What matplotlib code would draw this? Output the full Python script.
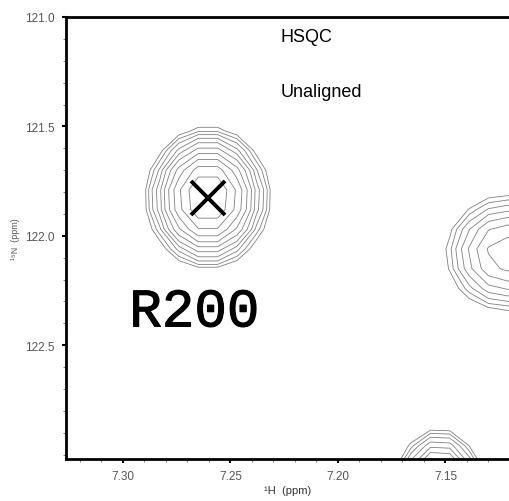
import numpy as np
import matplotlib
matplotlib.use('Agg')
import matplotlib.pyplot as plt
import matplotlib.patheffects as pe

plt.rcParams['font.family'] = ['Liberation Sans', 'DejaVu Sans']

# peaks (1H ppm, 15N ppm, height, widths)
peak_h = [7.2605, 7.122, 7.153]
peak_n = [121.825, 122.08, 123.14]
peak_height = [7.4, 3.7, 5.0]
peak_wh = [0.0141, 0.0170, 0.0112]
peak_wn = [0.160, 0.160, 0.140]

# contour levels (geometric, as in the plot)
levels = [1.0, 1.215, 1.476, 1.794, 2.18, 2.648, 3.218, 3.91, 4.75, 5.77, 7.01]

# digital resolution of the spectrum
h_axis = np.arange(7.40, 7.05, -0.009)
n_axis = np.arange(120.8, 123.4, 0.09)

H, N = np.meshgrid(h_axis, n_axis)
Z = np.zeros_like(H)
for h0, n0, a, wh, wn in zip(peak_h, peak_n, peak_height, peak_wh, peak_wn):
    Z += a * np.exp(-0.5 * ((H - h0) / wh) ** 2 - 0.5 * ((N - n0) / wn) ** 2)

fig = plt.figure(figsize=(5.10, 5.02), dpi=100)
ax = fig.add_axes([66 / 510, 42 / 502, 444 / 510, 442 / 502])

ax.contour(H, N, Z, levels=levels, colors='#808080', linewidths=0.6)

# assigned peak
ax.plot([7.2605], [121.825], marker='x', color='black', markersize=24, mew=2.8)

ax.set_xlim(7.3265, 7.1278)
ax.set_ylim(123.02, 121.0)

ax.set_xticks([7.30, 7.25, 7.20, 7.15])
ax.set_xticklabels(['7.30', '7.25', '7.20', '7.15'])
ax.set_xticks(np.arange(7.32, 7.12, -0.01), minor=True)
ax.set_yticks([121.0, 121.5, 122.0, 122.5])
ax.set_yticklabels(['121.0', '121.5', '122.0', '122.5'])
ax.set_yticks(np.arange(121.1, 123.0, 0.1), minor=True)

ax.tick_params(which='major', length=3, width=1.5, labelsize=8.5, labelcolor='#555555', pad=5)
ax.tick_params(which='minor', length=2, width=0.6, color='#666666')

for s in ['left', 'top', 'bottom']:
    ax.spines[s].set_linewidth(2)
ax.spines['right'].set_visible(False)

ax.set_xlabel('¹H  (ppm)', fontsize=8, color='#333333', labelpad=2)
ax.set_ylabel('¹⁵N  (ppm)', fontsize=6.5, color='#555555', labelpad=4)

ax.text(7.2147, 121.09, 'HSQC', fontsize=13, ha='center', va='center')
ax.text(7.2077, 121.34, 'Unaligned', fontsize=13, ha='center', va='center')
ax.text(7.2668, 122.35, 'R200', fontsize=39, family='Liberation Mono',
        ha='center', va='center',
        path_effects=[pe.withStroke(linewidth=0.8, foreground='black')])

fig.savefig('out.png', dpi=100)
